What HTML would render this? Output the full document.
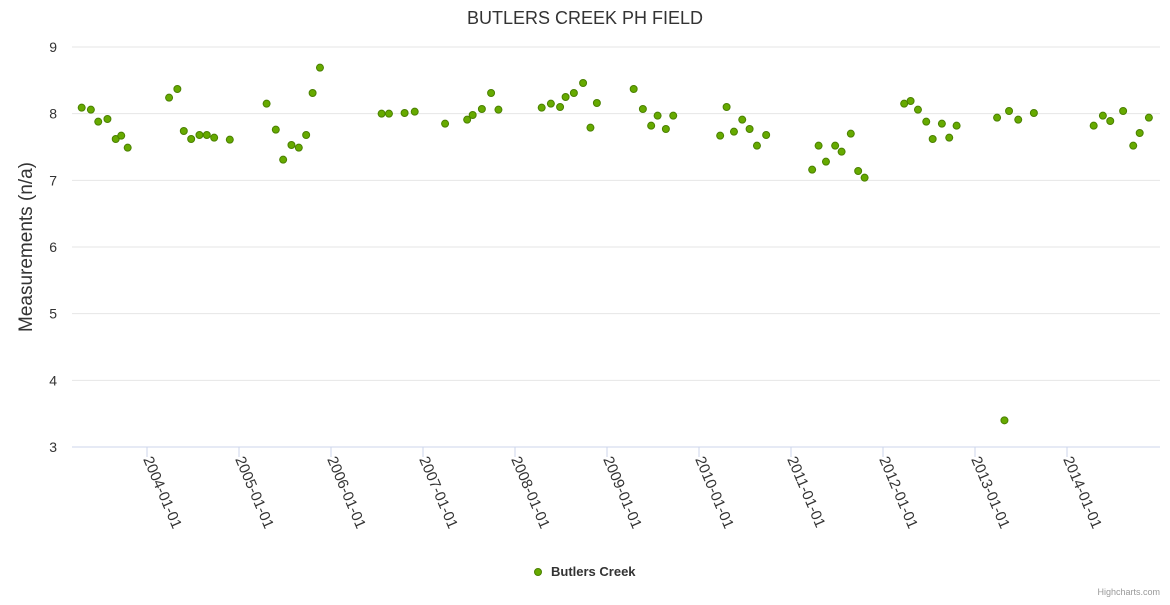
<!DOCTYPE html>
<html><head><meta charset="utf-8"><style>
body{margin:0;background:#fff;font-family:"Liberation Sans",sans-serif}
svg text{font-family:"Liberation Sans",sans-serif}
</style></head><body>
<svg id="chart" width="1170" height="600">
<text x="585" y="24" text-anchor="middle" font-size="18" fill="#333">BUTLERS CREEK PH FIELD</text>
<g id="grid"></g><g id="xaxis"></g><g id="yaxis"></g><g id="points"></g>
<text transform="translate(32,247) rotate(-90)" text-anchor="middle" font-size="19" fill="#333">Measurements (n/a)</text>
<g>
<circle cx="538" cy="572" r="3.5" fill="#66aa00" stroke="#4a8000" stroke-width="1"/>
<text x="551" y="576" font-size="13" font-weight="bold" fill="#333">Butlers Creek</text>
</g>
<text x="1160" y="595" text-anchor="end" font-size="9" fill="#999">Highcharts.com</text>
</svg>
<script>
const dates=[2003.29,2003.39,2003.47,2003.57,2003.66,2003.72,2003.79,2004.24,2004.33,2004.40,2004.48,2004.57,2004.65,2004.73,2004.90,2005.30,2005.40,2005.48,2005.57,2005.65,2005.73,2005.80,2005.88,2006.55,2006.63,2006.80,2006.91,2007.24,2007.48,2007.54,2007.64,2007.74,2007.82,2008.29,2008.39,2008.49,2008.55,2008.64,2008.74,2008.82,2008.89,2009.29,2009.39,2009.48,2009.55,2009.64,2009.72,2010.23,2010.30,2010.38,2010.47,2010.55,2010.63,2010.73,2011.23,2011.30,2011.38,2011.48,2011.55,2011.65,2011.73,2011.80,2012.23,2012.30,2012.38,2012.47,2012.54,2012.64,2012.72,2012.80,2013.24,2013.32,2013.37,2013.47,2013.64,2014.29,2014.39,2014.47,2014.61,2014.72,2014.79,2014.89];
const values=[8.09,8.06,7.88,7.92,7.62,7.67,7.49,8.24,8.37,7.74,7.62,7.68,7.68,7.64,7.61,8.15,7.76,7.31,7.53,7.49,7.68,8.31,8.69,8.0,8.0,8.01,8.03,7.85,7.91,7.98,8.07,8.31,8.06,8.09,8.15,8.1,8.25,8.31,8.46,7.79,8.16,8.37,8.07,7.82,7.97,7.77,7.97,7.67,8.1,7.73,7.91,7.77,7.52,7.68,7.16,7.52,7.28,7.52,7.43,7.7,7.14,7.04,8.15,8.19,8.06,7.88,7.62,7.85,7.64,7.82,7.94,3.4,8.04,7.91,8.01,7.82,7.97,7.89,8.04,7.52,7.71,7.94];
const yTicks=[3,4,5,6,7,8,9];
const xTickYears=[2004,2005,2006,2007,2008,2009,2010,2011,2012,2013,2014];
const xTickLabels=["2004-01-01","2005-01-01","2006-01-01","2007-01-01","2008-01-01","2009-01-01","2010-01-01","2011-01-01","2012-01-01","2013-01-01","2014-01-01"];
const NS="http://www.w3.org/2000/svg";
const L=72,R=1160,T=47,B=447;
const x=v=>147+(v-2004)*92;
const y=v=>B-(v-3)/6*(B-T);
function mk(tag,attrs,parent){const e=document.createElementNS(NS,tag);for(const k in attrs)e.setAttribute(k,attrs[k]);document.getElementById(parent).appendChild(e);return e;}
yTicks.forEach(t=>{
 const g=mk('line',{x1:L,x2:R,y1:y(t),y2:y(t),stroke:t===3?'#ccd6eb':'#e6e6e6','stroke-width':1},'grid');
 
 
 const tx=mk('text',{x:57,y:y(t)+5,'text-anchor':'end','font-size':14,fill:'#333'},'yaxis');
 tx.textContent=t;
 
 
});
xTickYears.forEach((yr,i)=>{
 const tk=mk('line',{x1:x(yr),x2:x(yr),y1:B,y2:B+10,stroke:'#ccd6eb'},'xaxis');
 
 
 const tx=mk('text',{x:0,y:0,'font-size':15,fill:'#333',transform:`translate(${x(yr)-4},${B+12}) rotate(67)`},'xaxis');
 tx.textContent=xTickLabels[i];
 
 
});
dates.forEach((d,i)=>{
 const c=mk('circle',{cx:x(d),cy:y(values[i]),r:3.5,fill:'#66aa00',stroke:'#4a8000','stroke-width':1},'points');
 
 
});
</script>
</body></html>
